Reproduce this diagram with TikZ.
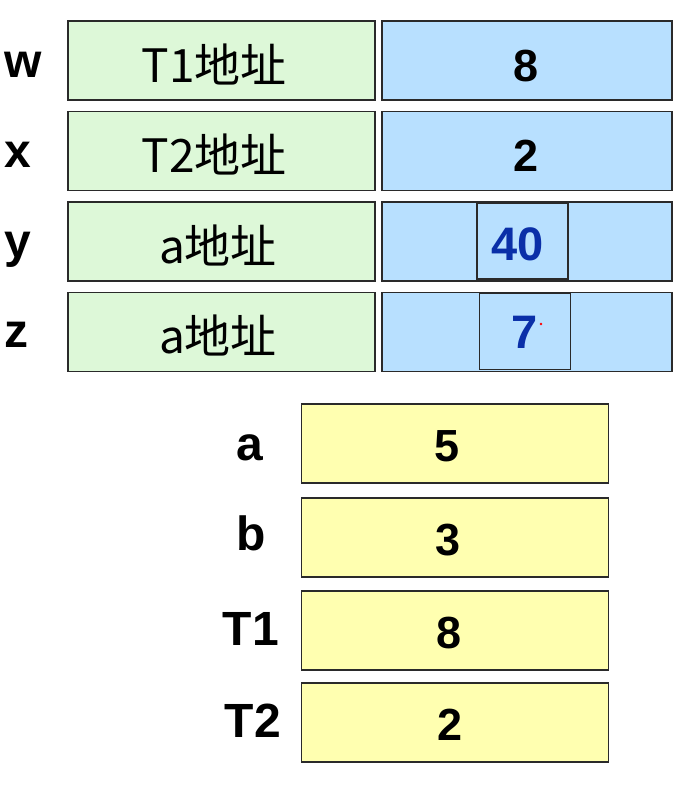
\documentclass[tikz,border=0pt]{standalone}
\usepackage{fontspec}
\setmainfont{Liberation Sans}
\newfontfamily\cjk{Noto Sans CJK SC}
\definecolor{gfill}{HTML}{DDF8D8}
\definecolor{bfill}{HTML}{B8E0FF}
\definecolor{yfill}{HTML}{FFFFB0}
\definecolor{edge}{HTML}{2A2A2A}
\definecolor{valblue}{HTML}{0A2FA8}
\begin{document}
\begin{tikzpicture}[x=1pt,y=-1pt,
  cell/.style={draw=edge,line width=1.6pt,inner sep=0pt,anchor=center},
  gcell/.style={cell,fill=gfill,minimum width=307pt,minimum height=79pt},
  bcell/.style={cell,fill=bfill,minimum width=290pt,minimum height=79pt},
  icell/.style={cell,fill=bfill,minimum width=91pt,minimum height=76pt},
  ycell/.style={cell,fill=yfill,minimum width=307pt,minimum height=79pt},
  lab/.style={font=\fontsize{48}{48}\selectfont\bfseries,inner sep=0pt},
  cjktxt/.style={font=\fontsize{46}{46}\selectfont\cjk,inner sep=0pt,anchor=base},
  num/.style={font=\fontsize{45}{45}\selectfont\bfseries,inner sep=0pt,anchor=base},
  bnum/.style={font=\fontsize{47}{47}\selectfont\bfseries,inner sep=0pt,anchor=base,text=valblue}]
\useasboundingbox (0,0) rectangle (679,790);
% top table
\node[gcell] (g1) at (221.5,60.5) {};
\node[gcell] (g2) at (221.5,151) {};
\node[gcell] (g3) at (221.5,241.5) {};
\node[gcell] (g4) at (221.5,332) {};
\node[bcell] (b1) at (527,60.5) {};
\node[bcell] (b2) at (527,151) {};
\node[bcell] (b3) at (527,241.5) {};
\node[bcell] (b4) at (527,332) {};
\node[icell] (i3) at (522.5,241) {};
\node[icell] (i4) at (525,331.5) {};
\node[cjktxt] (tg1) at (214,82) {T1地址};
\node[cjktxt] (tg2) at (214,172.5) {T2地址};
\node[cjktxt] (tg3) at (218,263) {a地址};
\node[cjktxt] (tg4) at (218,353.5) {a地址};
\node[num] (tb1) at (526.5,81) {8};
\node[num] (tb2) at (526.5,171) {2};
\node[bnum] (ti3) at (517.5,260) {40};
\node[bnum] (ti4) at (525,348) {7};
\fill[red] (541,324) circle (1.3pt);
\node[lab,anchor=base west] (lw) at (4,77) {w};
\node[lab,anchor=base west] (lx) at (4,167) {x};
\node[lab,anchor=base west] (ly) at (4,257) {y};
\node[lab,anchor=base west] (lz) at (4,347) {z};
% bottom table
\node[ycell] (y1) at (455,443.5) {};
\node[ycell] (y2) at (455,537.5) {};
\node[ycell] (y3) at (455,630.5) {};
\node[ycell] (y4) at (455,722.5) {};
\node[num] (ty1) at (447,461) {5};
\node[num] (ty2) at (448,555) {3};
\node[num] (ty3) at (449,648) {8};
\node[num] (ty4) at (450,740) {2};
\node[lab,anchor=base] (la) at (250,460) {a};
\node[lab,anchor=base] (lb) at (251,550) {b};
\node[lab,anchor=base] (lt1) at (251,645) {T1};
\node[lab,anchor=base] (lt2) at (253,737) {T2};
\end{tikzpicture}
\end{document}
